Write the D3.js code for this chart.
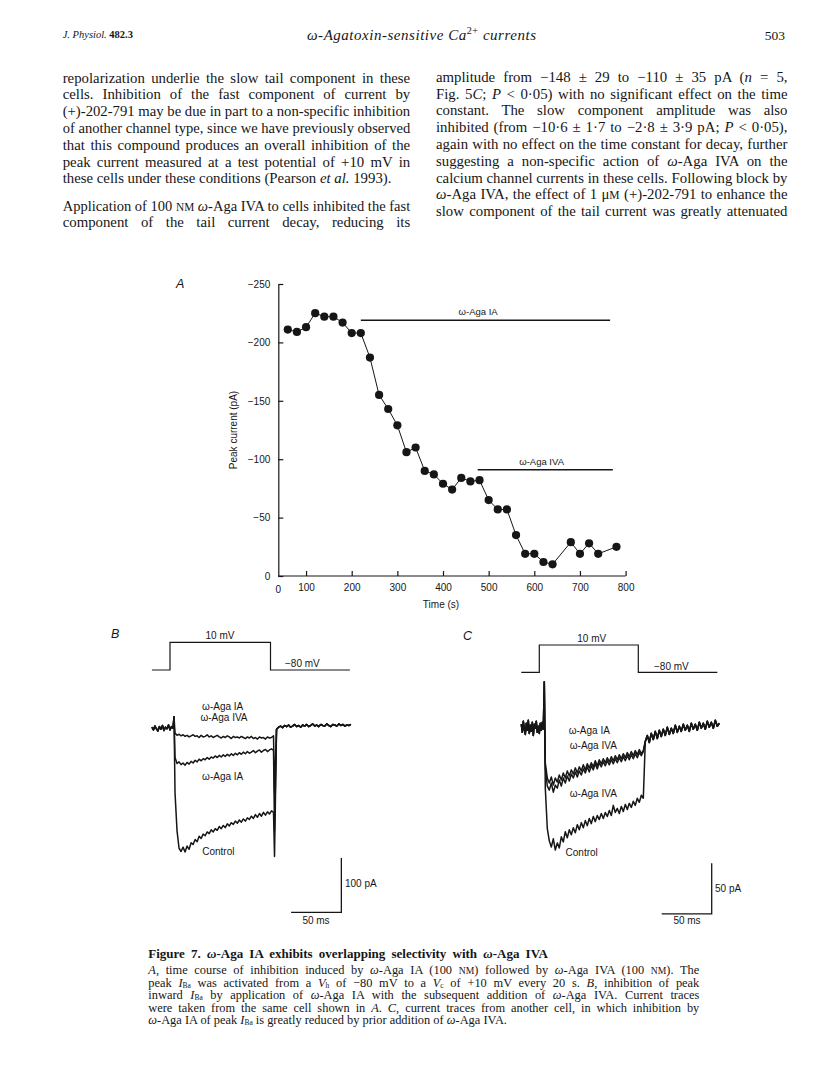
<!DOCTYPE html>
<html><head><meta charset="utf-8">
<script src="https://cdn.jsdelivr.net/npm/d3@7"></script>
<style>body{margin:0;background:#fff}svg{display:block}text{white-space:pre}</style>
</head><body>
<script>
// ---------------- DATA ----------------
// Panel A: time course
const timeA = [60,80,100,120,140,160,180,200,220,240,260,280,300,320,340,360,380,400,420,440,460,480,500,520,540,560,580,600,620,640,680,700,720,740,780];
const peakA = [-211,-209,-213,-225,-222,-222,-217,-208,-208,-187,-155,-143,-129,-106,-110,-90,-87,-79,-74,-84,-81,-82,-65,-57,-57,-35,-19,-19,-12,-10,-29,-19,-28,-19,-25];
const yTicksA = [0,-50,-100,-150,-200,-250];
const xTicksA = [100,200,300,400,500,600,700,800];
const drugNames = ["ω-Aga IA","ω-Aga IVA"];
const drugStart = [220,476];
const drugEnd = [766,772];
const drugLevel = [-219,-91];

// Panel B traces (pA), ms
const protoB_t = [-18,0,0,100,100,179];
const protoB_v = [-80,-80,10,10,-80,-80];
const preB = [1,-4,3,-2,-6,2,-3,4,-5,1,-2,5,-4,2,-1];          // t=-18.. step 1.5
const spikeB = 20;                                              // t=4
const traceNamesB = ["ω-Aga IA + ω-Aga IVA","ω-Aga IA","Control"];
const mainB_IAIVA = [-10,-14,-12,-15,-13,-16,-14,-17,-15,-13,-16,-15,-18,-14,-17,-16,-13,-17,-15,-18,-16,-14,-17,-19,-16,-18,-15,-17,-20,-16,-18,-17,-19,-16,-18,-20,-17,-19,-16,-20,-18,-21,-17,-19,-18,-21,-17,-19,-18,-15];
const mainB_IA = [-55,-66,-63,-68,-65,-69,-64,-67,-62,-65,-60,-63,-58,-61,-57,-59,-55,-58,-54,-56,-52,-55,-51,-54,-50,-53,-49,-52,-48,-51,-47,-50,-46,-49,-45,-48,-44,-47,-45,-42,-46,-43,-41,-45,-42,-40,-44,-41,-39,-42];
const mainB_Ctrl = [-120,-190,-222,-228,-220,-229,-218,-224,-212,-215,-206,-210,-200,-204,-196,-199,-192,-195,-188,-192,-186,-189,-182,-186,-180,-184,-177,-181,-175,-178,-172,-176,-170,-174,-168,-172,-166,-169,-163,-167,-160,-165,-158,-163,-156,-161,-155,-159,-153,-156];
const tailB = [-120,-190,-237];                                 // t=104
const postB = [-3,1,3,0,4,2,5,1,3,6,2,4,1,5,3,6,2,4,7,3,5,2,6,4,3,7,4,2,6,5,3,7,4,6,3,5,4,6]; // t=106.. step 2

// Panel C traces
const protoC_t = [-18,0,0,99,99,178];
const protoC_v = [-80,-80,10,10,-80,-80];
const preC = [3,-5,6,-2,-7,4,-3,7,-6,2,-4,5,-8,3,-1,6,-5,1,-6,4,-3,5,-2]; // t=-18.. step 1
const spikeC = 45;                                              // t=5
const mainC_IAIVA = [-35,-50,-55,-49,-57,-50,-54,-47,-52,-45,-50,-43,-48,-42,-46,-40,-45,-39,-43,-37,-42,-36,-40,-35,-39,-33,-38,-32,-36,-31,-35,-30,-34,-29,-33,-28,-32,-27,-31,-26,-30,-25,-29,-24,-28,-23,-27,-22,-26,-23];
const mainC_IVA = [-40,-58,-62,-55,-64,-57,-60,-52,-58,-50,-55,-48,-53,-46,-50,-44,-49,-43,-47,-41,-45,-39,-44,-38,-42,-36,-41,-35,-39,-34,-38,-33,-37,-32,-36,-31,-35,-30,-34,-29,-33,-28,-32,-27,-31,-26,-30,-25,-28,-24];
const mainC_Ctrl = [-60,-100,-112,-118,-110,-121,-114,-119,-108,-113,-103,-109,-101,-106,-99,-104,-96,-101,-94,-99,-92,-97,-90,-95,-88,-93,-87,-91,-85,-90,-84,-88,-82,-87,-77,-84,-80,-85,-78,-83,-76,-81,-75,-79,-73,-77,-70,-74,-67,-70];
const postC = [-14,-8,-15,-6,-12,-4,-11,-3,-9,-2,-8,0,-7,-1,-6,2,-5,1,-4,3,-3,2,-4,4,-2,3,-3,5,-1,4,-2,6,0,5,-1,7,1,4];

// Text
const leftCol = [
 "repolarization underlie the slow tail component in these",
 "cells. Inhibition of the fast component of current by",
 "(+)-202-791 may be due in part to a non-specific inhibition",
 "of another channel type, since we have previously observed",
 "that this compound produces an overall inhibition of the",
 "peak current measured at a test potential of +10 mV in",
 "these cells under these conditions (Pearson {i:et al.} 1993).",
 "Application of 100 {c:nm} {i:ω}-Aga IVA to cells inhibited the fast",
 "component of the tail current decay, reducing its"
];
const rightCol = [
 "amplitude from −148 ± 29 to −110 ± 35 pA ({i:n} = 5,",
 "Fig. 5{i:C}; {i:P} < 0·05) with no significant effect on the time",
 "constant. The slow component amplitude was also",
 "inhibited (from −10·6 ± 1·7 to −2·8 ± 3·9 pA; {i:P} < 0·05),",
 "again with no effect on the time constant for decay, further",
 "suggesting a non-specific action of {i:ω}-Aga IVA on the",
 "calcium channel currents in these cells. Following block by",
 "{i:ω}-Aga IVA, the effect of 1 μ{c:m} (+)-202-791 to enhance the",
 "slow component of the tail current was greatly attenuated"
];
const captionTitle = "Figure 7. {i:ω}-Aga IA exhibits overlapping selectivity with {i:ω}-Aga IVA";
const captionLines = [
 "{i:A}, time course of inhibition induced by {i:ω}-Aga IA (100 {c:nm}) followed by {i:ω}-Aga IVA (100 {c:nm}). The",
 "peak {i:I}{s:Ba} was activated from a {i:V}{s:h} of −80 mV to a {i:V}{s:c} of +10 mV every 20 s. {i:B}, inhibition of peak",
 "inward {i:I}{s:Ba} by application of {i:ω}-Aga IA with the subsequent addition of {i:ω}-Aga IVA. Current traces",
 "were taken from the same cell shown in {i:A}. {i:C}, current traces from another cell, in which inhibition by",
 "{i:ω}-Aga IA of peak {i:I}{s:Ba} is greatly reduced by prior addition of {i:ω}-Aga IVA."
];

// ---------------- DRAW ----------------
const W=816,H=1091;
const svg=d3.select("body").append("svg").attr("width",W).attr("height",H);
svg.append("rect").attr("width",W).attr("height",H).attr("fill","#fff");
const INK="#161616";
const SERIF="'Liberation Serif','Times New Roman',serif";
const SANS="'Liberation Sans',Arial,Helvetica,sans-serif";

function rich(sel,str,size){
  const re=/\{(i|s|c|b|u):([^}]*)\}/g; let last=0,m,shift=0;
  function add(txt,kind){
    const t=sel.append("tspan");
    let dy=0;
    if(kind==="i") t.attr("font-style","italic");
    if(kind==="b") t.attr("font-weight","bold");
    if(kind==="c"){ t.attr("font-size",size*0.78); txt=txt.toUpperCase(); }
    if(kind==="s"){ t.attr("font-size",size*0.6); dy=size*0.12; }
    if(kind==="u"){ t.attr("font-size",size*0.68); dy=-size*0.4; }
    const d=dy-shift; if(d!==0) t.attr("dy",d); shift=dy;
    t.text(txt);
  }
  while((m=re.exec(str))){ if(m.index>last) add(str.slice(last,m.index),null); add(m[2],m[1]); last=re.lastIndex; }
  if(last<str.length) add(str.slice(last),null);
}
function textLine(x,y,str,size,opts={}){
  const t=svg.append("text").attr("x",x).attr("y",y).attr("font-family",SERIF)
    .attr("font-size",size).attr("fill",INK);
  if(opts.weight) t.attr("font-weight",opts.weight);
  if(opts.italic) t.attr("font-style","italic");
  if(opts.anchor) t.attr("text-anchor",opts.anchor);
  rich(t,str,size);
  if(opts.len) t.attr("textLength",opts.len).attr("lengthAdjust","spacing");
  if(opts.just){
    const w=t.node().getComputedTextLength();
    const n=(t.node().textContent.match(/ /g)||[]).length;
    if(w<opts.just && n>0) t.attr("word-spacing",(opts.just-w)/n);
    else if(w>opts.just) t.attr("textLength",opts.just).attr("lengthAdjust","spacingAndGlyphs");
  }
  return t;
}

// header
const hdr=svg.append("text").attr("x",62.7).attr("y",37.5).attr("font-family",SERIF).attr("font-size",10.5).attr("fill",INK);
hdr.append("tspan").attr("font-style","italic").text("J. Physiol. ");
hdr.append("tspan").attr("font-weight","bold").text("482.3");
textLine(307,40,"{i:ω-Agatoxin-sensitive Ca}{u:2+}{i: currents}",15,{len:229});
textLine(785,39.5,"503",13.5,{anchor:"end"});

// body text
const BODY=14.8;
const leftY=[82.5,99.3,116.1,132.9,149.7,166.5,183.3,210.5,227.3];
leftCol.forEach((s,i)=>{ textLine(62.7,leftY[i],s,BODY,i===6?{}:{just:347.5}); });
const rightY=[81.8,98.6,115.4,132.2,149,165.8,182.6,199.4,216.2];
rightCol.forEach((s,i)=>{ textLine(436,rightY[i],s,BODY,{just:351.5}); });

// caption
textLine(148.3,957.5,captionTitle,13,{weight:"bold",just:399.5});
const capY=[974,986.5,999,1011.5,1024];
captionLines.forEach((s,i)=>{ textLine(148.3,capY[i],s,12.4,i<4?{just:551}:{}); });

// ---------------- PANEL A ----------------
const xA=d3.scaleLinear().domain([0,800]).range([260.4,625.6]);
const yA=d3.scaleLinear().domain([0,-250]).range([576,284]);
const axisX0=278.3;
const gA=svg.append("g").attr("font-family",SANS);
gA.append("text").attr("x",176).attr("y",287.5).attr("font-family",SANS).attr("font-style","italic").attr("font-size",12.5).attr("fill",INK).text("A");
const yAx=gA.append("g").attr("transform",`translate(${axisX0},0)`)
  .call(d3.axisLeft(yA).tickValues(yTicksA).tickSizeInner(-5).tickSizeOuter(0).tickPadding(8)
  .tickFormat(d=>d===0?"0":"−"+Math.abs(d)));
const xAx=gA.append("g").attr("transform",`translate(0,${yA(0)})`)
  .call(d3.axisBottom(xA).tickValues(xTicksA).tickSizeInner(-5).tickSizeOuter(0).tickPadding(8));
xAx.select(".domain").remove();
gA.append("line").attr("x1",axisX0).attr("x2",xA(800)).attr("y1",yA(0)).attr("y2",yA(0)).attr("stroke",INK).attr("stroke-width",1.2);
gA.append("text").attr("x",axisX0).attr("y",yA(0)+16.5).attr("text-anchor","middle").attr("font-size",10).attr("fill",INK).text("0");
[yAx,xAx].forEach(a=>{a.selectAll("text").attr("font-size",10).attr("fill",INK).attr("font-family",SANS);
  a.selectAll("line,path").attr("stroke",INK).attr("stroke-width",1.2);});
gA.append("text").attr("transform",`translate(236.5,430) rotate(-90)`).attr("text-anchor","middle")
  .attr("font-size",10).attr("fill",INK).text("Peak current (pA)");
gA.append("text").attr("x",441).attr("y",608).attr("text-anchor","middle").attr("font-size",10).attr("fill",INK).text("Time (s)");
const ptsA=timeA.map((t,i)=>[t,peakA[i]]);
gA.append("path").datum(ptsA).attr("fill","none").attr("stroke",INK).attr("stroke-width",1)
  .attr("d",d3.line().x(d=>xA(d[0])).y(d=>yA(d[1])));
gA.selectAll("circle.pt").data(ptsA).join("circle").attr("class","pt")
  .attr("cx",d=>xA(d[0])).attr("cy",d=>yA(d[1])).attr("r",4.1).attr("fill",INK);
const labelT=[477,616];
drugNames.forEach((n,i)=>{
  gA.append("line").attr("x1",xA(drugStart[i])).attr("x2",xA(drugEnd[i])).attr("y1",yA(drugLevel[i])).attr("y2",yA(drugLevel[i]))
    .attr("stroke",INK).attr("stroke-width",1.6);
  gA.append("text").attr("x",xA(labelT[i])).attr("y",yA(drugLevel[i])-5).attr("text-anchor","middle")
    .attr("font-size",9.5).attr("fill",INK).text(n);
});

// ---------------- TRACE PANELS ----------------
function buildTrace(pre,preT0,preStep,spikeT,spike,main,mainT0,mainStep,tail,tailT,post,postT0,postStep){
  const p=[];
  pre.forEach((v,i)=>p.push([preT0+i*preStep,v]));
  p.push([spikeT,spike]);
  main.forEach((v,i)=>p.push([mainT0+i*mainStep,v]));
  if(tail!==null) p.push([tailT,tail]);
  post.forEach((v,i)=>p.push([postT0+i*postStep,v]));
  return p;
}
function drawPanel(cfg){
  const g=svg.append("g").attr("font-family",SANS);
  const line=d3.line().x(d=>cfg.x(d[0])).y(d=>cfg.y(d[1]));
  const vline=d3.line().x(d=>cfg.x(d[0])).y(d=>cfg.yv(d[1]));
  g.append("path").datum(cfg.protoT.map((t,i)=>[t,cfg.protoV[i]])).attr("d",vline)
    .attr("fill","none").attr("stroke",INK).attr("stroke-width",1.2);
  cfg.traces.forEach(tr=>{
    g.append("path").datum(tr).attr("d",line).attr("fill","none").attr("stroke",INK)
      .attr("stroke-width",cfg.sw).attr("stroke-linejoin","round");
  });
  g.append("path").attr("d",`M${cfg.x(cfg.sbT-50)},${cfg.y(cfg.sbV-cfg.sbI)}H${cfg.x(cfg.sbT)}V${cfg.y(cfg.sbV)}`)
    .attr("fill","none").attr("stroke",INK).attr("stroke-width",1.3);
  cfg.labels.forEach(l=>{
    g.append("text").attr("x",l[0]).attr("y",l[1]).attr("text-anchor",l[3]||"middle")
      .attr("font-size",l[4]||10).attr("fill",INK).text(l[2]);
  });
  g.append("text").attr("x",cfg.letter[0]).attr("y",cfg.letter[1]).attr("font-style","italic")
    .attr("font-size",12.5).attr("fill",INK).text(cfg.letter[2]);
}

// B
const xB=d3.scaleLinear().domain([0,100]).range([170,270.5]);
const yB=d3.scaleLinear().domain([0,-100]).range([727.7,782]);
const yBv=d3.scaleLinear().domain([-80,10]).range([670,642.3]);
const mainsB=[mainB_IAIVA,mainB_IA,mainB_Ctrl];
drawPanel({x:xB,y:yB,yv:yBv,protoT:protoB_t,protoV:protoB_v,sw:1.5,
  traces:mainsB.map((m,k)=>buildTrace(preB,-18,1.5,4,spikeB,m,5,2,tailB[k],104,postB,106,2)),
  sbT:170.5,sbV:-240,sbI:100,
  labels:[[220,639,"10 mV"],[285,667,"−80 mV","start"],[222.7,709.5,"ω-Aga IA"],[224,721,"ω-Aga IVA"],
    [222.7,779.5,"ω-Aga IA"],[218.3,854.5,"Control"],[345,886.5,"100 pA","start"],[316,924,"50 ms"]],
  letter:[111,637.5,"B"]});

// C
const xC=d3.scaleLinear().domain([0,100]).range([539.3,639.3]);
const yC=d3.scaleLinear().domain([0,-50]).range([727.3,778]);
const yCv=d3.scaleLinear().domain([-80,10]).range([672.3,645]);
const mainsC=[mainC_IAIVA,mainC_IVA,mainC_Ctrl];
drawPanel({x:xC,y:yC,yv:yCv,protoT:protoC_t,protoV:protoC_v,sw:1.5,
  traces:mainsC.map(m=>buildTrace(preC,-18,1,5,spikeC,m,6,2,null,0,postC,106,2)),
  sbT:172.4,sbV:-134,sbI:50,
  labels:[[591.7,642,"10 mV"],[654,669.5,"−80 mV","start"],[589.3,733.5,"ω-Aga IA"],[593.3,748.5,"ω-Aga IVA"],
    [593.3,797,"ω-Aga IVA"],[581.7,856,"Control"],[715,891.5,"50 pA","start"],[687,924,"50 ms"]],
  letter:[463,639.5,"C"]});
</script>
</body></html>
